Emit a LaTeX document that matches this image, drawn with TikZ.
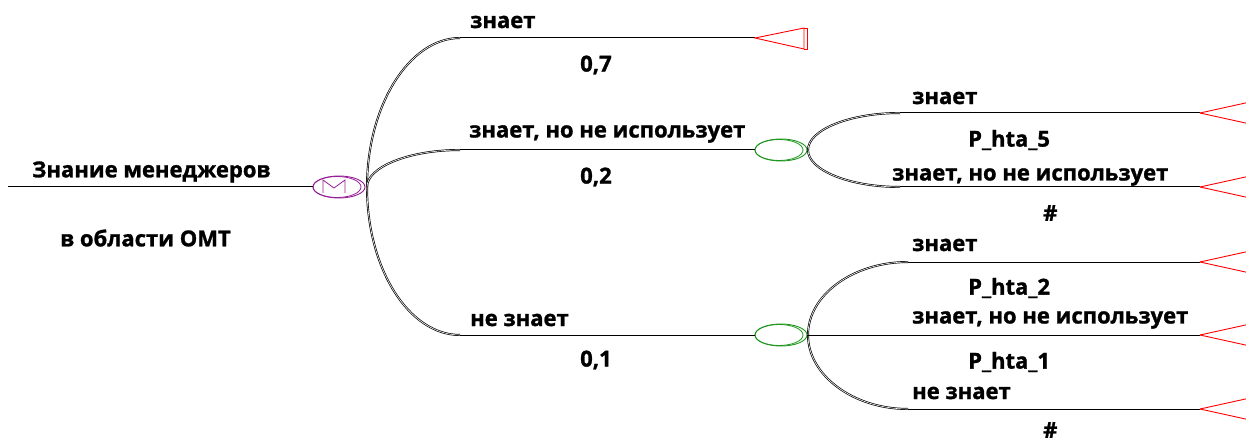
\documentclass[tikz,border=0pt]{standalone}
\usepackage{fontspec}
\setmainfont{Open Sans}[BoldFeatures={FakeBold=1.2}]
\usetikzlibrary{shapes.geometric}
\definecolor{chancepurple}{RGB}{150,30,150}
\definecolor{chancegreen}{RGB}{30,150,30}
\definecolor{termred}{RGB}{255,0,0}
\begin{document}
\begin{tikzpicture}[x=1pt,y=-1pt,
  lbl/.style={anchor=west,inner sep=0pt,font=\fontsize{22}{26}\selectfont\bfseries},
  edge/.style={draw=black,line width=1pt},
  branch/.style={draw=black,line width=0.7pt,double=white,double distance=0.6pt},
  chance/.style={ellipse,draw,line width=0.9pt,minimum width=52pt,minimum height=22pt,inner sep=0pt},
  term/.style={draw=termred,line width=0.9pt},
]
\useasboundingbox (0,0) rectangle (1246,438);
\clip (0,0) rectangle (1246,438);

% ---- root decision ----
\coordinate (start) at (8,187);
\node[lbl] (title1) at (32,172) {Знание менеджеров};
\node[lbl] (title2) at (60,238) {в области ОМТ};
\node[chance,draw=chancepurple] (m) at (339,187) {};
\draw[chancepurple,line width=0.8pt] (337,187) ellipse (24pt and 10.5pt);
\draw[chancepurple,line width=0.8pt] (323,193) -- (323,180) -- (334,188) -- (345,180) -- (345,193);
\draw[edge] (start) -- (m.west);
\coordinate (mc) at (367,187);

% ---- first level branches ----
\coordinate (b1) at (460,38);
\coordinate (b2) at (460,150);
\coordinate (b3) at (460,335);
\draw[branch] (mc) .. controls (367,106) and (409,38) .. (b1);
\draw[branch] (mc) .. controls (367,167) and (409,150) .. (b2);
\draw[branch] (mc) .. controls (367,269) and (409,335) .. (b3);

\coordinate (t1) at (755,38);
\node[chance,draw=chancegreen] (g1) at (781,150) {};
\draw[chancegreen,line width=0.8pt] (779,150) ellipse (24pt and 10.5pt);
\node[chance,draw=chancegreen] (g2) at (781,335) {};
\draw[chancegreen,line width=0.8pt] (779,335) ellipse (24pt and 10.5pt);

\draw[edge] (b1) -- (t1);
\draw[edge] (b2) -- (g1.west);
\draw[edge] (b3) -- (g2.west);

\node[lbl] (l1) at (470,22) {знает};
\node[lbl] (p1) at (580,65) {0,7};
\node[lbl] (l2) at (469,134) {знает, но не использует};
\node[lbl] (p2) at (580,177) {0,2};
\node[lbl] (l3) at (470,320) {не знает};
\node[lbl] (p3) at (580,360) {0,1};

% terminal of the top branch
\draw[term] (t1) -- (804,28) -- (804,49) -- cycle;
\draw[term] (804,28) -- (807,28) -- (807,49) -- (804,49);

% ---- second chance node (upper) ----
\coordinate (g1c) at (808,150);
\coordinate (c1) at (900,113);
\coordinate (c2) at (900,187);
\draw[branch] (g1c) .. controls (808,130) and (849,113) .. (c1);
\draw[branch] (g1c) .. controls (808,170) and (849,187) .. (c2);
\coordinate (e1) at (1200,113);
\coordinate (e2) at (1200,187);
\draw[edge] (c1) -- (e1);
\draw[edge] (c2) -- (e2);
\node[lbl] (l4) at (912,98) {знает};
\node[lbl] (h5) at (968,140) {P\_hta\_5};
\node[lbl] (l5) at (892,177) {знает, но не использует};
\node[lbl] (s1) at (1043,213) {\#};

% ---- third chance node (lower) ----
\coordinate (g2c) at (808,335);
\coordinate (d1) at (908,262);
\coordinate (d3) at (908,409);
\draw[branch] (g2c) .. controls (808,295) and (853,262) .. (d1);
\draw[branch] (g2c) .. controls (808,375) and (853,409) .. (d3);
\coordinate (e3) at (1200,262);
\coordinate (e4) at (1200,335);
\coordinate (e5) at (1200,409);
\draw[edge] (d1) -- (e3);
\draw[edge] (g2.east) -- (e4);
\draw[edge] (d3) -- (e5);
\node[lbl] (l6) at (912,245) {знает};
\node[lbl] (h2) at (968,288) {P\_hta\_2};
\node[lbl] (l7) at (912,320) {знает, но не использует};
\node[lbl] (h1) at (968,362) {P\_hta\_1};
\node[lbl] (l8) at (912,393) {не знает};
\node[lbl] (s2) at (1043,430) {\#};

% open terminals at the right edge
\foreach \e in {e1,e2,e3,e4,e5}{
  \draw[term] (\e) -- ++(50,-11);
  \draw[term] (\e) -- ++(50,11);
}
\end{tikzpicture}
\end{document}
